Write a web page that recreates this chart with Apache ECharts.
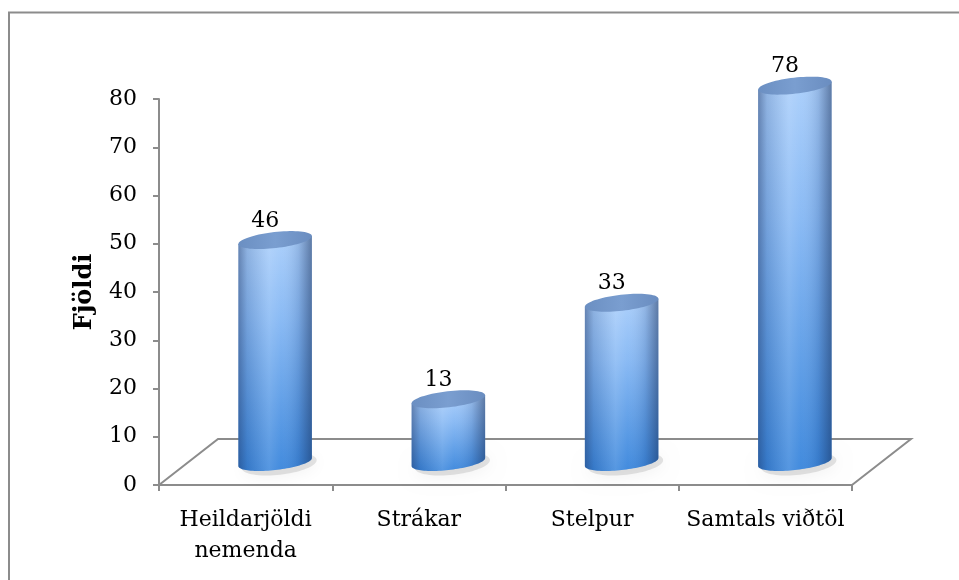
<!DOCTYPE html>
<html><head><meta charset="utf-8">
<script src="https://cdn.jsdelivr.net/npm/echarts@6/dist/echarts.min.js"></script>
<style>html,body{margin:0;padding:0;background:#fff}#c{width:959px;height:580px}</style>
</head><body><div id="c"></div>
<script>
// ---- data ----
const categories = ['Heildarjöldi\nnemenda', 'Strákar', 'Stelpur', 'Samtals viðtöl'];
const values = [46, 13, 33, 78];
const valueLabels = ['46', '13', '33', '78'];
const yMin = 0, yMax = 80, yInterval = 10;
const yAxisName = 'Fjöldi';

// ---- style ----
const FONT = '"DejaVu Serif", serif';
const AXIS = '#8c8c8c';
const DEPTH_X = 59, DEPTH_Y = -46;
const PHI = 6.5 * Math.PI / 180;

function ePt(cx, cy, rx, ry, t) {
  return [cx + rx * Math.cos(t) * Math.cos(PHI) + ry * Math.sin(t) * Math.sin(PHI),
          cy - rx * Math.cos(t) * Math.sin(PHI) + ry * Math.sin(t) * Math.cos(PHI)];
}
function arcPts(cx, cy, rx, ry, ta, tb, n) {
  const pts = [];
  for (let k = 0; k <= n; k++) pts.push(ePt(cx, cy, rx, ry, ta + (tb - ta) * k / n));
  return pts;
}

function renderFloor(params, api) {
  const cs = params.coordSys;
  const x = cs.x, y = cs.y + cs.height, w = cs.width;
  return {
    type: 'polyline',
    shape: { points: [[x, y], [x + DEPTH_X, y + DEPTH_Y], [x + w + DEPTH_X, y + DEPTH_Y], [x + w, y]] },
    style: { stroke: AXIS, lineWidth: 2, fill: null },
    silent: true
  };
}

function renderBar(params, api) {
  const i = api.value(0), v = api.value(1);
  const top = api.coord([i, v]), base = api.coord([i, 0]);
  const bw = api.size([1, 0])[0];
  const rx = bw * 0.427 / 2, ry = 8;
  const ox = DEPTH_X / 2, oy = DEPTH_Y / 2;
  const tx = top[0] + ox, ty = top[1] + oy, bx = base[0] + ox, by = base[1] + oy;
  const t0 = Math.atan2(ry * Math.sin(PHI), rx * Math.cos(PHI));
  const body = [ePt(tx, ty, rx, ry, t0 + Math.PI)]
    .concat(arcPts(bx, by, rx, ry, t0 + Math.PI, t0, 48))
    .concat([ePt(tx, ty, rx, ry, t0)]);
  const topE = arcPts(tx, ty, rx, ry, 0, 2 * Math.PI, 72);
  const shadow = arcPts(bx + 4, by + 2, rx * 1.02, ry * 1.35, 0, 2 * Math.PI, 72);
  return {
    type: 'group',
    children: [
      { type: 'polygon', shape: { points: shadow },
        style: { fill: 'rgba(0,0,0,0.10)', shadowBlur: 16, shadowOffsetY: 2, shadowColor: 'rgba(0,0,0,0.5)' } },
      { type: 'polygon', shape: { points: body },
        style: { fill: new echarts.graphic.LinearGradient(0, 0, 0, 1, [
          { offset: 0, color: '#a9cefb' }, { offset: 0.35, color: '#86b8f4' }, { offset: 1, color: '#3a86dc' }]) } },
      { type: 'polygon', shape: { points: body },
        style: { fill: new echarts.graphic.LinearGradient(0, 0, 1, 0, [
          { offset: 0, color: 'rgba(25,45,90,0.45)' },
          { offset: 0.12, color: 'rgba(25,45,90,0.16)' },
          { offset: 0.42, color: 'rgba(255,255,255,0.14)' },
          { offset: 0.58, color: 'rgba(255,255,255,0.04)' },
          { offset: 0.82, color: 'rgba(25,45,90,0.14)' },
          { offset: 1, color: 'rgba(20,40,80,0.5)' }]) } },
      { type: 'polygon', shape: { points: topE },
        style: { fill: new echarts.graphic.LinearGradient(0, 0, 1, 0, [
          { offset: 0, color: '#6b8fc2' }, { offset: 0.5, color: '#7a9ed0' }, { offset: 1, color: '#6a8dc0' }]) } },
      { type: 'text', x: tx - 10, y: ty - 8,
        style: { text: valueLabels[i], align: 'center', verticalAlign: 'bottom',
                 textAlign: 'center', textVerticalAlign: 'bottom',
                 font: '22px ' + FONT, fill: '#000' } }
    ]
  };
}

const chart = echarts.init(document.getElementById('c'), null, { renderer: 'canvas', width: 959, height: 580 });
chart.setOption({
  animation: false,
  backgroundColor: '#fff',
  graphic: [{
    type: 'rect', shape: { x: 9, y: 12.5, width: 2000, height: 2000 },
    style: { fill: null, stroke: AXIS, lineWidth: 2 }, silent: true, z: -10
  }],
  grid: { left: 159, right: 107, top: 99, bottom: 95, containLabel: false, outerBoundsMode: 'none' },
  xAxis: {
    type: 'category', data: categories, boundaryGap: true,
    axisLine: { show: true, lineStyle: { color: AXIS, width: 2 } },
    axisTick: { show: true, alignWithLabel: false, length: 6, lineStyle: { color: AXIS, width: 2 } },
    axisLabel: { color: '#000', fontFamily: FONT, fontSize: 22, lineHeight: 31, margin: 20, interval: 0 },
    splitLine: { show: false }
  },
  yAxis: {
    type: 'value', min: yMin, max: yMax, interval: yInterval,
    name: yAxisName, nameLocation: 'middle', nameRotate: 90, nameGap: 62,
    nameTextStyle: { color: '#000', fontFamily: FONT, fontSize: 24, fontWeight: 'bold' },
    axisLine: { show: true, lineStyle: { color: AXIS, width: 2 } },
    axisTick: { show: true, length: 6, lineStyle: { color: AXIS, width: 2 } },
    axisLabel: { color: '#000', fontFamily: FONT, fontSize: 22, margin: 22 },
    splitLine: { show: false }
  },
  series: [
    { type: 'custom', renderItem: renderFloor, data: [[0, 0]], clip: false, silent: true, z: 1 },
    { type: 'custom', renderItem: renderBar, clip: false, z: 3,
      encode: { x: 0, y: 1 },
      data: values.map((v, i) => [i, v]) }
  ]
});
</script>
</body></html>
